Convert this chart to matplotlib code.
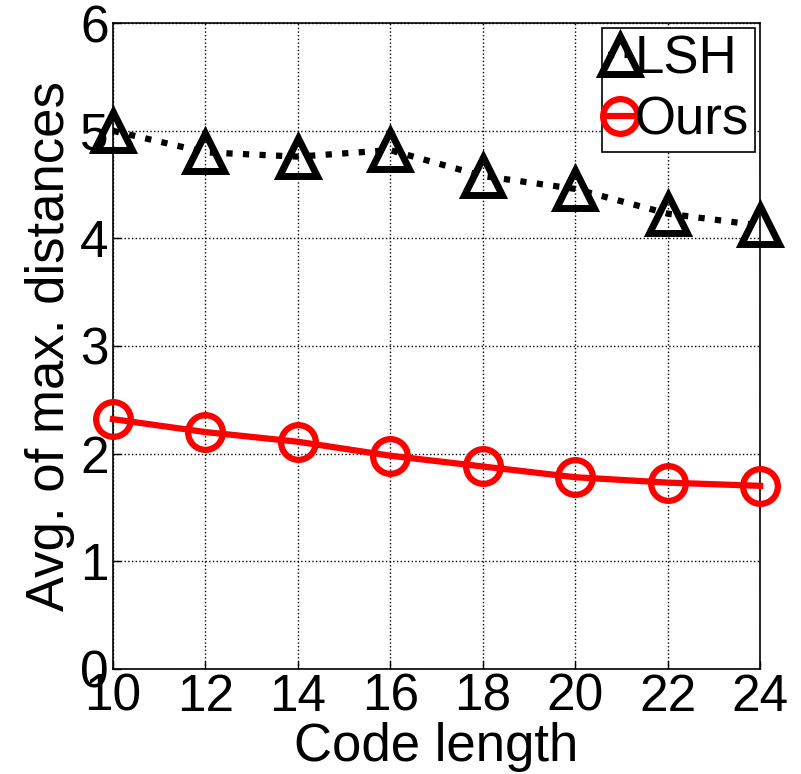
import matplotlib
matplotlib.use("Agg")
import matplotlib.pyplot as plt

code_len = [10, 12, 14, 16, 18, 20, 22, 24]
lsh = [5.0, 4.80, 4.76, 4.82, 4.58, 4.46, 4.23, 4.12]
ours = [2.32, 2.20, 2.11, 1.98, 1.88, 1.78, 1.73, 1.70]
yticks = [0, 1, 2, 3, 4, 5, 6]

plt.rcParams['font.family'] = ['Liberation Sans', 'DejaVu Sans']

fig = plt.figure(figsize=(8.01, 7.74), dpi=100)
ax = fig.add_axes([0.141, 0.136, 0.808, 0.834])

ax.plot(code_len, lsh, color='black', ls=':', lw=4.5, marker='^',
        ms=28, mew=5, mfc='none', mec='black', label='LSH', clip_on=False, zorder=3)
ax.plot(code_len, ours, color='red', ls='-', lw=4.5, marker='o',
        ms=25, mew=4.5, mfc='none', mec='red', label='Ours', clip_on=False, zorder=3)

ax.set_xlim(10, 24)
ax.set_ylim(0, 6)
ax.set_xticks(code_len)
ax.set_yticks(yticks)
ax.grid(True, color='black', ls=':', lw=1)
ax.tick_params(labelsize=37, direction='in', length=6, width=1, pad=3)
for s in ax.spines.values():
    s.set_linewidth(1.2)

ax.set_xlabel('Code length', fontsize=38, labelpad=0)
ax.set_ylabel('Avg. of max. distances', fontsize=38, labelpad=4)

leg = ax.legend(loc='upper right', fontsize=38, handlelength=0.45, handletextpad=0.05,
                borderpad=0.12, labelspacing=0.2, borderaxespad=0.1,
                fancybox=False, framealpha=1, edgecolor='black')
leg.get_frame().set_linewidth(1.2)

fig.savefig('out.png', dpi=100)
